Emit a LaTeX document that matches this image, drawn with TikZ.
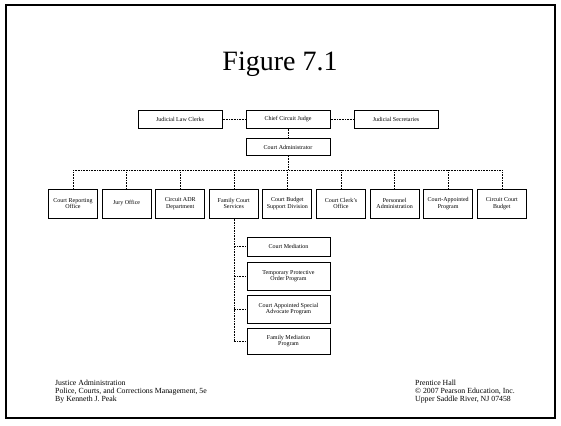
\documentclass[tikz,border=0pt]{standalone}
\usepackage{fontspec}
\setmainfont{Liberation Serif}
\begin{document}
\begin{tikzpicture}[x=1pt,y=-1pt,
  unit/.style={draw,line width=1pt,minimum width=49pt,minimum height=29pt,align=center,inner sep=1pt,font=\fontsize{6}{6.6}\selectfont},
  topunit/.style={unit,minimum width=84pt,minimum height=18pt},
  subunit/.style={unit,minimum width=83pt},
  link/.style={densely dotted,line width=0.6pt},
  footer/.style={anchor=north west,align=left,inner sep=0pt,font=\fontsize{7.8}{7.8}\selectfont}]
\useasboundingbox (0,0) rectangle (561,425);
%frame
\draw[line width=1.4pt](6,5) rectangle (555,418);
\node (title) at (280,64) {\fontsize{28}{30}\selectfont Figure 7.1};
%top
\node[topunit] (chief) at (288,119) {Chief Circuit Judge};
\node[topunit] (clerks) at (180,119) {Judicial Law Clerks};
\node[topunit] (secr) at (396,119) {Judicial Secretaries};
\node[topunit,minimum height=17pt] (admin) at (288,147) {Court Administrator};
\draw[link](clerks)--(chief);
\draw[link](chief)--(secr);
\draw[link](chief)--(admin);
\coordinate (bus) at (288,170);
\draw[link](admin)--(bus);
%divisions
\foreach \i/\txt in {1/Court Reporting\\Office,2/Jury Office,3/Circuit ADR\\Department,4/Family Court\\Services,5/Court Budget\\Support Division,6/Court Clerk's\\Office,7/Personnel\\Administration,8/Court-Appointed\\Program,9/Circuit Court\\Budget}
  {\node[unit] (d\i) at ({73+53.6*(\i-1)},203.5) {\txt};
   \draw[link](d\i.north)--(d\i.north|-bus);}
\draw[link](d1.north|-bus)--(d9.north|-bus);
%family court services
\node[subunit,minimum height=19pt] (s1) at (288.5,246.5) {Court Mediation};
\node[subunit,minimum height=28pt] (s2) at (288.5,276) {Temporary Protective\\Order Program};
\node[subunit,minimum height=28pt] (s3) at (288.5,309) {Court Appointed Special\\Advocate Program};
\node[subunit,minimum height=26pt] (s4) at (288.5,341) {Family Mediation\\Program};
\draw[link](d4.south)--(d4.south|-s4.west);
\foreach \i in {1,...,4}{\draw[link](d4.south|-s\i.west)--(s\i.west);}
%footer
\node[footer] (book) at (55,380) {Justice Administration\\Police, Courts, and Corrections Management, 5e\\By Kenneth J. Peak};
\node[footer] (publ) at (415,380) {Prentice Hall\\\copyright{} 2007 Pearson Education, Inc.\\Upper Saddle River, NJ 07458};
\end{tikzpicture}
\end{document}
